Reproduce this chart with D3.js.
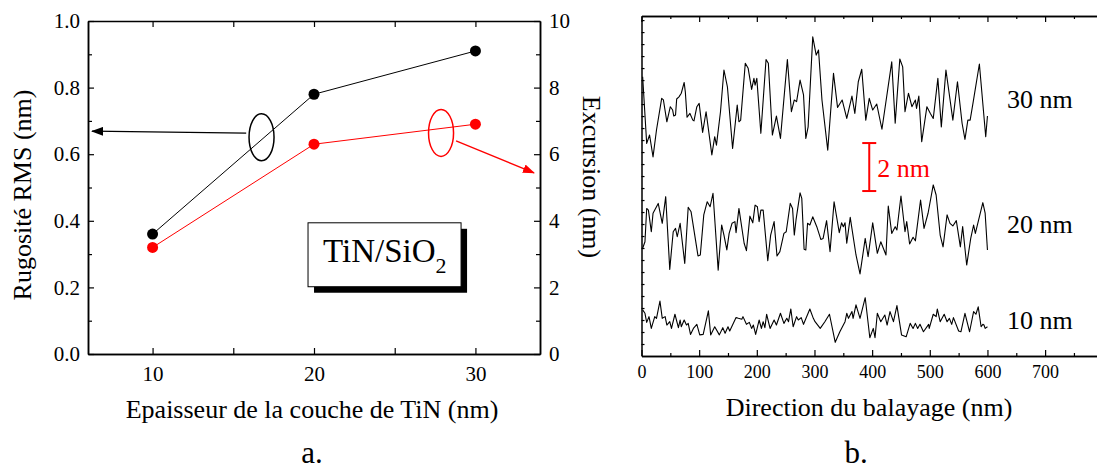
<!DOCTYPE html>
<html>
<head>
<meta charset="utf-8">
<script src="https://cdn.jsdelivr.net/npm/d3@7"></script>
<style>
  body { margin: 0; background: #fff; }
  svg { display: block; }
  svg text { font-family: "Liberation Serif", "Times New Roman", Times, "DejaVu Serif", serif; }
</style>
</head>
<body>
<div id="chart"></div>
<script>
// ---- data, panel a ----
var thickness = [10, 20, 30];
var rmsRough = [0.36, 0.78, 0.91];      // left axis (nm)
var excursion = [3.2, 6.3, 6.9];        // right axis (nm)
var xTicksA = [10, 20, 30];
var xMinorA = [15, 25];
var yTicksA = [0, 0.2, 0.4, 0.6, 0.8, 1.0];
var yMinorA = [0.1, 0.3, 0.5, 0.7, 0.9];
var y2TicksA = [0, 2, 4, 6, 8, 10];
var y2MinorA = [1, 3, 5, 7, 9];

// ---- data, panel b : height profiles (x in nm, height in nm, stacked) ----
var profile30 = [[2,11.64],[9,8.86],[14,9.21],[20,8.30],[26,9.42],[35,10.74],[38,10.67],[44,9.76],[50,10.39],[54,10.25],[56,10.0],[59,10.04],[61,10.71],[65,10.80],[69,10.95],[74,11.40],[76,11.01],[79,9.95],[84,10.11],[89,9.83],[91,9.80],[96,10.39],[100,10.53],[106,9.32],[112,10.18],[122,8.38],[127,9.14],[130,8.79],[137,10.18],[143,11.92],[149,11.22],[158,8.65],[166,10.46],[169,9.76],[172,9.83],[180,12.20],[185,11.99],[191,11.11],[195,11.57],[197,11.29],[200,11.57],[207,9.28],[216,12.36],[220,12.20],[227,9.21],[234,10.0],[241,9.07],[253,12.36],[260,10.18],[265,10.67],[269,10.60],[275,11.5],[281,10.88],[285,9.07],[289,9.55],[297,13.30],[303,12.54],[307,12.75],[313,10.67],[323,8.58],[333,11.78],[340,10.36],[348,10.67],[356,9.90],[365,10.83],[370,10.11],[376,11.43],[382,11.95],[389,9.83],[395,10.74],[401,10.25],[408,10.5],[417,9.45],[434,12.26],[440,9.70],[448,12.38],[453,12.05],[457,10.18],[463,10.95],[469,10.39],[475,10.67],[477,10.32],[481,10.83],[486,8.93],[495,10.39],[501,10.11],[506,9.90],[514,11.57],[520,9.55],[528,11.92],[540,9.83],[548,11.43],[556,9.70],[561,9.03],[566,9.83],[570,9.83],[575,10.55],[586,12.17],[597,9.14],[600,10.0]];
var profile20 = [[2,4.49],[6,4.76],[9,6.15],[12,6.08],[17,5.18],[20,5.95],[29,6.36],[36,5.53],[42,6.64],[49,3.61],[55,5.18],[59,5.32],[62,4.97],[67,5.53],[75,3.86],[81,6.20],[86,6.01],[98,4.17],[102,4.21],[108,5.88],[114,6.43],[119,6.22],[124,6.78],[133,3.58],[139,5.46],[143,5.04],[148,4.42],[152,5.11],[157,5.53],[162,5.60],[164,5.14],[169,6.15],[178,4.70],[182,4.39],[188,5.83],[193,5.55],[197,6.29],[201,6.22],[204,5.60],[207,6.08],[211,6.08],[219,3.97],[224,5.04],[230,5.60],[235,4.17],[240,4.35],[247,5.11],[251,5.18],[258,6.36],[262,6.15],[265,5.04],[268,5.67],[275,6.80],[278,6.57],[282,4.45],[285,4.42],[288,5.53],[292,5.46],[297,5.80],[304,5.39],[311,4.86],[315,4.90],[321,5.64],[327,4.35],[334,6.43],[343,5.14],[347,5.55],[350,5.39],[353,5.55],[356,4.70],[362,5.78],[372,4.21],[379,3.42],[388,4.90],[393,4.14],[401,5.55],[409,4.28],[415,4.76],[424,4.21],[428,6.25],[434,5.11],[440,5.39],[443,5.25],[450,6.67],[457,5.18],[460,5.60],[465,4.67],[471,4.95],[475,4.80],[484,6.5],[490,5.32],[497,5.95],[506,7.13],[511,6.71],[518,5.04],[523,4.55],[530,5.88],[535,5.53],[540,5.42],[546,5.64],[553,4.55],[557,5.39],[564,3.79],[571,4.90],[576,5.46],[579,5.11],[592,6.39],[596,5.95],[600,4.42]];
var profile10 = [[2,1.92],[6,1.78],[9,1.40],[13,1.64],[17,1.15],[23,1.64],[26,1.57],[32,2.29],[36,1.57],[41,1.64],[44,1.29],[49,1.43],[52,1.15],[58,1.74],[64,1.18],[67,1.5],[69,1.22],[74,1.5],[78,1.29],[81,1.36],[85,0.90],[90,1.15],[96,1.32],[101,0.88],[107,0.90],[116,1.88],[120,0.88],[127,1.22],[135,0.88],[141,1.18],[145,0.95],[150,1.22],[153,1.04],[164,1.60],[168,1.57],[174,1.53],[176,1.64],[182,1.32],[187,1.40],[191,1.15],[194,1.29],[198,0.90],[204,1.5],[208,1.15],[211,1.43],[214,1.18],[217,1.74],[223,1.15],[230,1.5],[234,1.29],[241,1.78],[247,1.36],[252,1.57],[255,1.43],[259,1.96],[263,1.22],[269,1.64],[272,1.5],[277,1.60],[281,1.32],[292,1.96],[298,1.57],[301,1.43],[310,1.15],[318,1.43],[326,1.74],[336,0.57],[344,1.01],[353,1.43],[356,1.78],[359,1.57],[365,1.85],[367,1.57],[372,2.13],[379,1.57],[388,2.43],[396,0.76],[402,1.15],[405,0.76],[409,1.78],[415,1.43],[422,1.71],[426,1.29],[431,1.85],[437,1.43],[443,2.10],[451,0.88],[459,0.80],[466,1.36],[471,1.15],[475,1.36],[479,1.15],[483,1.32],[489,1.01],[498,1.32],[499,1.15],[506,1.74],[511,1.64],[513,1.96],[518,1.43],[525,1.74],[530,1.43],[534,1.57],[538,1.32],[541,1.60],[550,1.04],[554,1.01],[561,1.78],[569,1.01],[576,1.85],[580,1.74],[584,2.05],[589,1.22],[592,1.32],[594,1.29],[596,1.15],[600,1.22]];
var profileLabels = ['30 nm', '20 nm', '10 nm'];
var labelHeights = [10.32, 5.13, 1.13];
var xTicksB = [0, 100, 200, 300, 400, 500, 600, 700];
var xMinorB = [50, 150, 250, 350, 450, 550, 650, 750];

var serif = 'Liberation Serif, Times New Roman, Times, DejaVu Serif, serif';

var svg = d3.select('#chart').append('svg')
  .attr('width', 1097)
  .attr('height', 471)
  .attr('font-family', serif);

function styleAxis(g, fs) {
  g.attr('font-family', serif).attr('font-size', fs);
  g.selectAll('path, line').attr('stroke', '#000');
  g.select('.domain').attr('stroke-width', 1.5);
  g.selectAll('.tick line').attr('stroke-width', 1.2);
  g.selectAll('text').attr('fill', '#000');
}

// ================= panel a =================
var xa = d3.scaleLinear().domain([6, 34]).range([88, 540]);
var ya = d3.scaleLinear().domain([0, 1]).range([354, 21]);
var ya2 = d3.scaleLinear().domain([0, 10]).range([354, 21]);

var ga = svg.append('g');

// axes (ticks inward)
ga.append('g').attr('transform', 'translate(0,354)')
  .call(d3.axisBottom(xa).tickValues(xTicksA).tickFormat(d3.format('d')).tickSizeInner(-6).tickSizeOuter(0).tickPadding(12))
  .call(styleAxis, 21);
ga.append('g').attr('transform', 'translate(0,354)')
  .call(d3.axisBottom(xa).tickValues(xMinorA).tickFormat('').tickSizeInner(-6).tickSizeOuter(0))
  .call(styleAxis, 21);
ga.append('g').attr('transform', 'translate(0,21)')
  .call(d3.axisTop(xa).tickValues(xTicksA.concat(xMinorA)).tickFormat('').tickSizeInner(-6).tickSizeOuter(0))
  .call(styleAxis, 21);
ga.append('g').attr('transform', 'translate(88,0)')
  .call(d3.axisLeft(ya).tickValues(yTicksA).tickFormat(d3.format('.1f')).tickSizeInner(-6).tickSizeOuter(0).tickPadding(8))
  .call(styleAxis, 21);
ga.append('g').attr('transform', 'translate(88,0)')
  .call(d3.axisLeft(ya).tickValues(yMinorA).tickFormat('').tickSizeInner(-4).tickSizeOuter(0))
  .call(styleAxis, 21);
ga.append('g').attr('transform', 'translate(540,0)')
  .call(d3.axisRight(ya2).tickValues(y2TicksA).tickFormat(d3.format('d')).tickSizeInner(-6).tickSizeOuter(0).tickPadding(9))
  .call(styleAxis, 21);
ga.append('g').attr('transform', 'translate(540,0)')
  .call(d3.axisRight(ya2).tickValues(y2MinorA).tickFormat('').tickSizeInner(-4).tickSizeOuter(0))
  .call(styleAxis, 21);

// markers for arrows
var defs = svg.append('defs');
[['arrBlack', '#000'], ['arrRed', '#ff0000']].forEach(function(m) {
  defs.append('marker')
    .attr('id', m[0])
    .attr('viewBox', '0 0 12 9')
    .attr('refX', 11).attr('refY', 4.5)
    .attr('markerWidth', 12).attr('markerHeight', 9)
    .attr('markerUnits', 'userSpaceOnUse')
    .attr('orient', 'auto')
    .append('path').attr('d', 'M0,0L12,4.5L0,9Z').attr('fill', m[1]);
});

// series
var pts = thickness.map(function(t, i) { return { t: t, rms: rmsRough[i], exc: excursion[i] }; });

ga.append('path').datum(pts)
  .attr('fill', 'none').attr('stroke', '#000').attr('stroke-width', 1)
  .attr('d', d3.line().x(function(d) { return xa(d.t); }).y(function(d) { return ya(d.rms); }));
ga.append('path').datum(pts)
  .attr('fill', 'none').attr('stroke', '#ff0000').attr('stroke-width', 1)
  .attr('d', d3.line().x(function(d) { return xa(d.t); }).y(function(d) { return ya2(d.exc); }));

ga.selectAll('.dotK').data(pts).enter().append('circle')
  .attr('cx', function(d) { return xa(d.t); })
  .attr('cy', function(d) { return ya(d.rms); })
  .attr('r', 5.5).attr('fill', '#000');
ga.selectAll('.dotR').data(pts).enter().append('circle')
  .attr('cx', function(d) { return xa(d.t); })
  .attr('cy', function(d) { return ya2(d.exc); })
  .attr('r', 5.5).attr('fill', '#ff0000');

// ellipses + arrows
ga.append('ellipse')
  .attr('cx', xa(16.75)).attr('cy', ya(0.651))
  .attr('rx', 12.5).attr('ry', 23.5)
  .attr('fill', 'none').attr('stroke', '#000').attr('stroke-width', 1.5);
ga.append('line')
  .attr('x1', xa(15.8)).attr('y1', ya(0.663))
  .attr('x2', xa(6.25)).attr('y2', ya(0.669))
  .attr('stroke', '#000').attr('stroke-width', 1.3)
  .attr('marker-end', 'url(#arrBlack)');

ga.append('ellipse')
  .attr('cx', xa(27.87)).attr('cy', ya2(6.64))
  .attr('rx', 12.5).attr('ry', 23.5)
  .attr('fill', 'none').attr('stroke', '#ff0000').attr('stroke-width', 1.5);
ga.append('line')
  .attr('x1', xa(28.8)).attr('y1', ya2(6.40))
  .attr('x2', xa(33.63)).attr('y2', ya2(5.44))
  .attr('stroke', '#ff0000').attr('stroke-width', 1.3)
  .attr('marker-end', 'url(#arrRed)');

// TiN/SiO2 box with shadow
var bx = xa(19.63), by = ya(0.394), bw = xa(29.11) - xa(19.63), bh = ya(0.202) - ya(0.394);
ga.append('rect').attr('x', bx + 6).attr('y', by + 6).attr('width', bw).attr('height', bh).attr('fill', '#000');
ga.append('rect').attr('x', bx).attr('y', by).attr('width', bw).attr('height', bh)
  .attr('fill', '#fff').attr('stroke', '#000').attr('stroke-width', 1);
var boxText = ga.append('text').attr('x', bx + 15).attr('y', by + 39).attr('font-size', 33);
boxText.append('tspan').text('TiN/SiO');
boxText.append('tspan').attr('font-size', 22).attr('dy', 11).text('2');

// titles
ga.append('text').attr('x', 312).attr('y', 418).attr('text-anchor', 'middle').attr('font-size', 26)
  .text('Epaisseur de la couche de TiN (nm)');
ga.append('text').attr('transform', 'translate(31,195) rotate(-90)').attr('text-anchor', 'middle').attr('font-size', 26)
  .text('Rugosité RMS (nm)');
ga.append('text').attr('transform', 'translate(583,177) rotate(90)').attr('text-anchor', 'middle').attr('font-size', 26)
  .text('Excursion (nm)');
ga.append('text').attr('x', 312).attr('y', 463).attr('text-anchor', 'middle').attr('font-size', 31).text('a.');

// ================= panel b =================
var xb = d3.scaleLinear().domain([0, 790]).range([641.5, 1097]);
var yb = d3.scaleLinear().domain([0, 14.17]).range([356, 16]);

var gb = svg.append('g');

gb.append('g').attr('transform', 'translate(0,356)')
  .call(d3.axisBottom(xb).tickValues(xTicksB).tickFormat(d3.format('d')).tickSizeInner(-6).tickSizeOuter(0).tickPadding(9))
  .call(styleAxis, 18);
gb.append('g').attr('transform', 'translate(0,356)')
  .call(d3.axisBottom(xb).tickValues(xMinorB).tickFormat('').tickSizeInner(-3).tickSizeOuter(0))
  .call(styleAxis, 18);
gb.append('g').attr('transform', 'translate(0,16)')
  .call(d3.axisTop(xb).tickValues(xTicksB).tickFormat('').tickSizeInner(-6).tickSizeOuter(0))
  .call(styleAxis, 18);
gb.append('g').attr('transform', 'translate(0,16)')
  .call(d3.axisTop(xb).tickValues(xMinorB).tickFormat('').tickSizeInner(-3).tickSizeOuter(0))
  .call(styleAxis, 18);
gb.append('g').attr('transform', 'translate(641.5,0)')
  .call(d3.axisLeft(yb).tickValues(d3.range(0.5, 14.1, 0.5)).tickFormat('').tickSizeInner(-3).tickSizeOuter(0))
  .call(styleAxis, 18);

var line = d3.line().x(function(d) { return xb(d[0]); }).y(function(d) { return yb(d[1]); });
[profile30, profile20, profile10].forEach(function(p) {
  gb.append('path').datum(p)
    .attr('fill', 'none').attr('stroke', '#000').attr('stroke-width', 1.1)
    .attr('stroke-linejoin', 'round')
    .attr('d', line);
});

profileLabels.forEach(function(l, i) {
  gb.append('text').attr('x', xb(634)).attr('y', yb(labelHeights[i]))
    .attr('font-size', 26).text(l);
});

// 2 nm scale bar
var sbx = xb(395);
gb.append('line').attr('x1', sbx).attr('x2', sbx).attr('y1', yb(6.875)).attr('y2', yb(8.875))
  .attr('stroke', '#ff0000').attr('stroke-width', 2);
[6.875, 8.875].forEach(function(v) {
  gb.append('line').attr('x1', sbx - 7).attr('x2', sbx + 7).attr('y1', yb(v)).attr('y2', yb(v))
    .attr('stroke', '#ff0000').attr('stroke-width', 2);
});
gb.append('text').attr('x', sbx + 8).attr('y', yb(7.46)).attr('font-size', 26).attr('fill', '#ff0000').text('2 nm');

gb.append('text').attr('x', 869).attr('y', 416).attr('text-anchor', 'middle').attr('font-size', 26)
  .text('Direction du balayage (nm)');
gb.append('text').attr('x', 856).attr('y', 463).attr('text-anchor', 'middle').attr('font-size', 31).text('b.');
</script>
</body>
</html>
